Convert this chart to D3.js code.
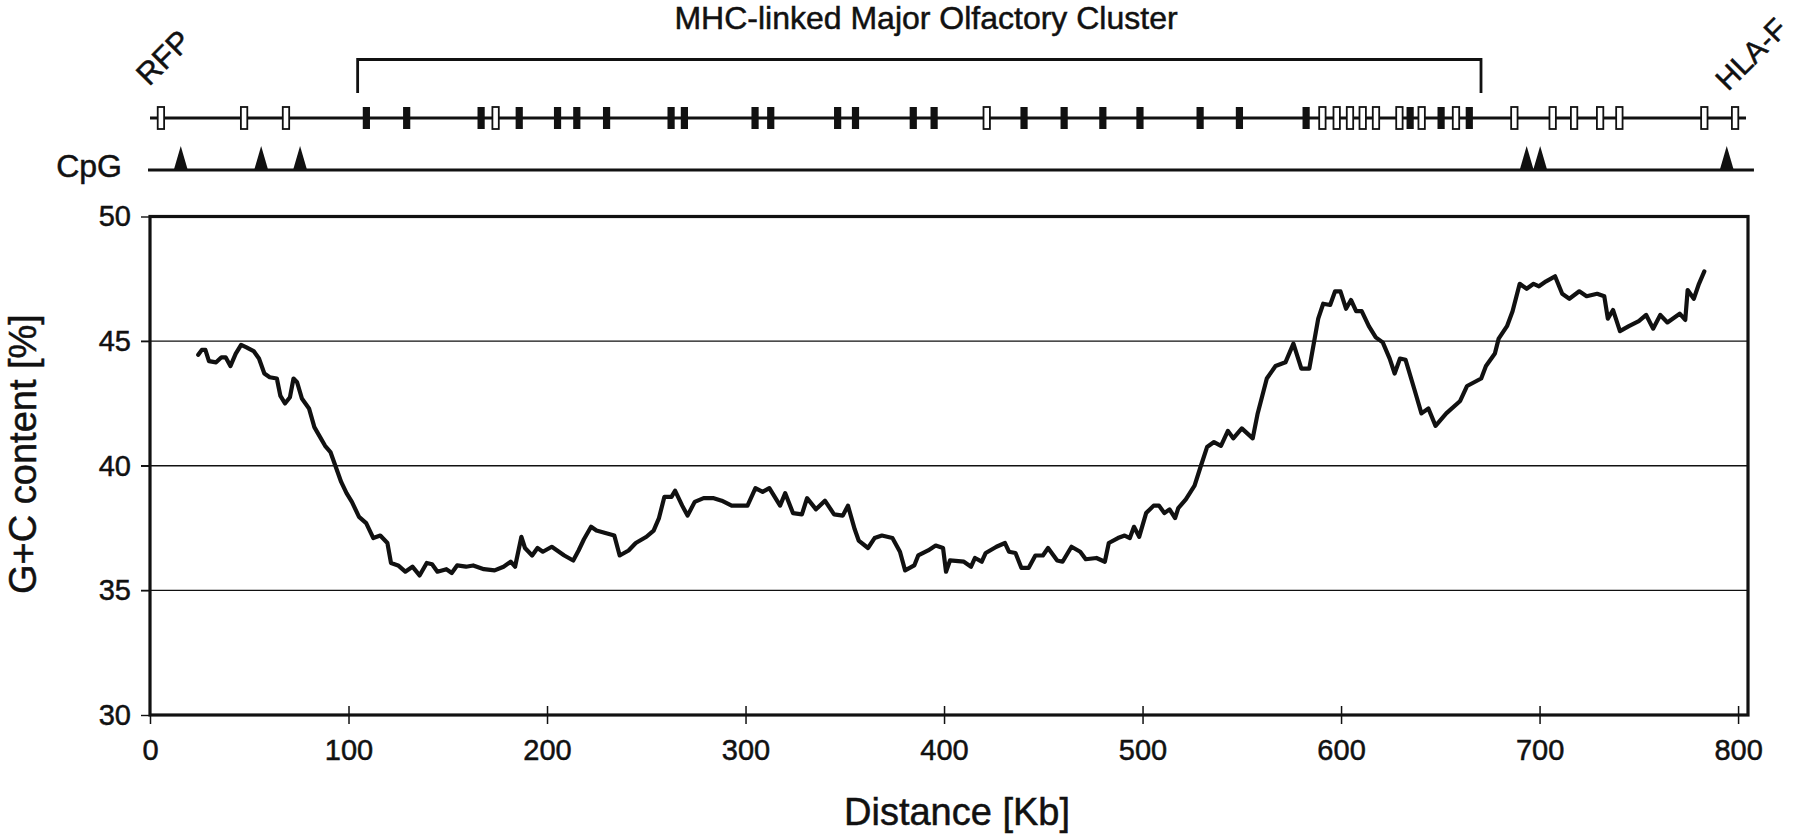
<!DOCTYPE html>
<html>
<head>
<meta charset="utf-8">
<script src="https://cdn.jsdelivr.net/npm/d3@7"></script>
<style>
  body { margin: 0; background: #fff; }
  svg { display: block; font-family: "Liberation Sans", Arial, Helvetica, sans-serif; }
  svg text { stroke: #111; stroke-width: 0.5px; }
</style>
</head>
<body>
<div id="chart"></div>
<script>
// G+C content along the MHC-linked olfactory receptor region
const distanceKb = [
  24.3, 26.1, 27.9, 29.7, 33.3, 36, 38.1, 40.5, 43.2, 45.9, 48.6, 52.2, 54.9, 57.6, 60.3, 63.9,
  65.7, 68, 70.5, 72.3, 74.1, 76.5, 80.1, 82.8, 84.6, 88.2, 90.9, 93.6, 96.3, 99, 101.7, 105.3,
  108.9, 112.5, 116, 119.6, 121.4, 125, 128.6, 132.2, 135.8, 139.4, 142.1, 144.8, 149.3, 152,
  154.7, 159.2, 162.8, 168.2, 173.6, 178.1, 181.7, 183.9, 187.1, 188.9, 192.5, 195.2, 197.9,
  202.4, 205.1, 208.7, 213.2, 215.9, 218.6, 222.2, 224.9, 229.4, 233.9, 236.6, 241.1, 244.7,
  250.1, 253.7, 256.4, 259.1, 262.7, 264.5, 268.1, 270.8, 274.4, 278.9, 282.1, 284, 288, 293,
  301, 305, 308.6, 312, 317.4, 320, 323.9, 328.4, 331, 335.5, 340, 344.6, 349, 351.6, 355, 357,
  361.7, 365, 368.7, 374, 377.8, 380.4, 385, 387, 392, 395.8, 399.5, 401, 403, 410, 413.6, 415.6,
  419, 421, 426.4, 430.7, 432.7, 436, 439, 442.6, 446, 449.8, 452.4, 457, 459.7, 464.2, 468.6,
  471.4, 476.8, 481, 483, 487.6, 491, 493.6, 495.7, 498.3, 501.8, 505.6, 508.3, 511, 513.6,
  516.4, 518, 521.8, 526.2, 529, 532.5, 536, 539.5, 543, 545.7, 550, 555.5, 558, 562.6, 567,
  572, 576, 580, 584, 588.5, 591, 594.5, 597, 599.7, 602.5, 605, 607.6, 610.4, 614, 617.5, 621,
  624.5, 627, 629.7, 632.5, 637, 640.5, 644, 647.6, 653, 660, 663.5, 670.6, 673, 677.5, 679.4,
  683.6, 686.4, 690, 693.5, 697, 699.7, 703.3, 707.8, 711.4, 715, 720, 723.7, 729, 732.6, 734.4,
  737, 740.5, 745, 750, 753.7, 757.2, 760.8, 764.4, 770.6, 773.4, 774.6, 777.7, 780.3, 783
]
const gcPercent = [
  44.45, 44.65, 44.65, 44.2, 44.15, 44.35, 44.35, 44.0, 44.5, 44.85, 44.75, 44.6, 44.3, 43.7, 43.55, 43.5,
  42.8, 42.5, 42.75, 43.5, 43.35, 42.7, 42.3, 41.55, 41.3, 40.8, 40.55, 39.95, 39.35, 38.9, 38.55, 37.95,
  37.7, 37.1, 37.2, 36.9, 36.1, 36.0, 35.75, 35.95, 35.6, 36.1, 36.05, 35.75, 35.85, 35.7,
  36.0, 35.95, 36.0, 35.85, 35.8, 35.95, 36.15, 35.95, 37.15, 36.7, 36.4, 36.7, 36.55,
  36.75, 36.6, 36.4, 36.2, 36.6, 37.05, 37.55, 37.4, 37.3, 37.2, 36.4, 36.6, 36.9,
  37.15, 37.4, 37.9, 38.75, 38.75, 39.0, 38.4, 38.0, 38.55, 38.7, 38.7, 38.7, 38.6, 38.4,
  38.4, 39.1, 38.95, 39.1, 38.4, 38.9, 38.1, 38.05, 38.7, 38.25, 38.6, 38.05, 38.0, 38.4, 37.45, 37.0,
  36.7, 37.1, 37.2, 37.1, 36.55, 35.8, 36.0, 36.4, 36.6, 36.8, 36.7, 35.75, 36.2, 36.15, 35.95, 36.3,
  36.15, 36.5, 36.75, 36.9, 36.55, 36.5, 35.9, 35.9, 36.4, 36.4, 36.7, 36.2, 36.15, 36.75, 36.55,
  36.25, 36.3, 36.15, 36.9, 37.1, 37.2, 37.1, 37.55, 37.15, 38.1, 38.4, 38.4, 38.1, 38.25,
  37.9, 38.3, 38.65, 39.2, 39.9, 40.75, 40.95, 40.8, 41.4, 41.1, 41.5, 41.1, 42.1, 43.5, 44.0,
  44.15, 44.9, 43.9, 43.9, 45.9, 46.5, 46.45, 47.0, 47.0, 46.3, 46.65, 46.2, 46.2, 45.6, 45.15, 44.95,
  44.3, 43.7, 44.3, 44.25, 43.05, 42.1, 42.3, 41.6, 42.1, 42.6, 43.2, 43.5, 44.0, 44.5, 45.1,
  45.6, 46.2, 47.3, 47.1, 47.3, 47.2, 47.4, 47.6, 46.9, 46.7, 47.0, 46.8, 46.9, 46.8, 45.9,
  46.25, 45.4, 45.6, 45.8, 46.05, 45.5, 46.05, 45.75, 46.1, 45.85, 47.05, 46.7, 47.3, 47.8
]

// gene map: open boxes and filled (olfactory receptor) boxes, positions in Kb
const openGenes = [5.5, 47.4, 68.5, 174.1, 421.5, 590.6, 597.8, 604.5, 610.9, 617.6, 629.4,
  640.6, 657.9, 687.3, 706.6, 717.4, 730.5, 740.2, 783, 798.5]
const filledGenes = [109, 129.3, 166.8, 186, 205.3, 215, 230, 262.5, 269.2, 304.8, 312.7, 346.4,
  355.4, 384.5, 395, 440.3, 460.5, 480, 498.7, 529, 548.8, 582.4, 634.8, 650.4, 664.6]
const cpgIslands = [15.5, 56, 75.6, 693.5, 700.3, 794.3]
const clusterSpan = [104.6, 670.5]

const xTicks = [0, 100, 200, 300, 400, 500, 600, 700, 800]
const yTicks = [30, 35, 40, 45, 50]
const gridValues = [35, 40, 45]

const width = 1800
const height = 834

const svg = d3.select("#chart")
  .append("svg")
  .attr("width", width)
  .attr("height", height)

const x = d3.scaleLinear().domain([0, 805]).range([150, 1748])
const y = d3.scaleLinear().domain([30, 50]).range([715, 216.5])

// Gridlines (extend a little left of the axis as ticks)
svg.append("g")
  .selectAll("line")
  .data(gridValues)
  .join("line")
  .attr("x1", x(0) - 9)
  .attr("x2", x(805))
  .attr("y1", d => y(d))
  .attr("y2", d => y(d))
  .attr("stroke", "#111")
  .attr("stroke-width", 1.4)

// Y axis ticks + labels
const yAxis = svg.append("g")
  .attr("transform", `translate(${x(0)},0)`)
  .call(d3.axisLeft(y).tickValues(yTicks).tickSize(9).tickPadding(10))
yAxis.select(".domain").remove()
yAxis.selectAll("line").attr("stroke", "#111").attr("stroke-width", 1.4)
yAxis.selectAll("text")
  .attr("fill", "#111")
  .attr("font-size", "29px")
  .attr("font-family", "Liberation Sans, Arial, sans-serif")

// X axis ticks crossing the axis line
const xAxis = svg.append("g")
  .attr("transform", `translate(0,${y(30)})`)
  .call(d3.axisBottom(x).tickValues(xTicks).tickSize(9).tickPadding(15))
xAxis.select(".domain").remove()
xAxis.selectAll("line").attr("stroke", "#111").attr("stroke-width", 1.5)
xAxis.selectAll(".tick").filter(d => d > 0)
  .append("line")
  .attr("y1", 0).attr("y2", -9)
  .attr("stroke", "#111").attr("stroke-width", 1.5)
xAxis.selectAll("text")
  .attr("fill", "#111")
  .attr("font-size", "29px")
  .attr("font-family", "Liberation Sans, Arial, sans-serif")

// Plot frame
svg.append("rect")
  .attr("x", x(0))
  .attr("y", y(50))
  .attr("width", x(805) - x(0))
  .attr("height", y(30) - y(50))
  .attr("fill", "none")
  .attr("stroke", "#111")
  .attr("stroke-width", 3.2)

// G+C curve
const line = d3.line()
  .x((d, i) => x(distanceKb[i]))
  .y(d => y(d))

svg.append("path")
  .datum(gcPercent)
  .attr("d", line)
  .attr("fill", "none")
  .attr("stroke", "#111")
  .attr("stroke-width", 4.2)
  .attr("stroke-linejoin", "round")
  .attr("stroke-linecap", "round")

// Axis titles
svg.append("text")
  .attr("x", 957)
  .attr("y", 825)
  .attr("text-anchor", "middle")
  .attr("font-size", "38px")
  .attr("fill", "#111")
  .text("Distance [Kb]")

svg.append("text")
  .attr("transform", "translate(36,454) rotate(-90)")
  .attr("text-anchor", "middle")
  .attr("font-size", "38px")
  .attr("fill", "#111")
  .text("G+C content [%]")

// Gene track
const geneY = 118
const track = svg.append("g")

track.append("line")
  .attr("x1", x(0)).attr("x2", x(804))
  .attr("y1", geneY).attr("y2", geneY)
  .attr("stroke", "#111").attr("stroke-width", 3)

track.selectAll("rect.filled")
  .data(filledGenes)
  .join("rect")
  .attr("class", "filled")
  .attr("x", d => x(d) - 3.6)
  .attr("y", geneY - 11)
  .attr("width", 7.2)
  .attr("height", 22)
  .attr("fill", "#111")

track.selectAll("rect.open")
  .data(openGenes)
  .join("rect")
  .attr("class", "open")
  .attr("x", d => x(d) - 3.2)
  .attr("y", geneY - 11)
  .attr("width", 6.4)
  .attr("height", 22)
  .attr("fill", "#fff")
  .attr("stroke", "#111")
  .attr("stroke-width", 1.8)

// Cluster bracket
const bracketTop = 59.5
track.append("path")
  .attr("d", `M${x(clusterSpan[0])},93 V${bracketTop} H${x(clusterSpan[1])} V93`)
  .attr("fill", "none")
  .attr("stroke", "#111")
  .attr("stroke-width", 2.8)

track.append("text")
  .attr("x", 926)
  .attr("y", 29)
  .attr("text-anchor", "middle")
  .attr("font-size", "32px")
  .attr("fill", "#111")
  .text("MHC-linked Major Olfactory Cluster")

// Gene labels
track.append("text")
  .attr("transform", "translate(149,87) rotate(-45)")
  .attr("font-size", "31px")
  .attr("fill", "#111")
  .text("RFP")

track.append("text")
  .attr("transform", "translate(1728,92) rotate(-45)")
  .attr("font-size", "30px")
  .attr("fill", "#111")
  .text("HLA-F")

// CpG track
const cpgY = 170
track.append("line")
  .attr("x1", x(-1)).attr("x2", x(808))
  .attr("y1", cpgY).attr("y2", cpgY)
  .attr("stroke", "#111").attr("stroke-width", 3)

track.selectAll("path.cpg")
  .data(cpgIslands)
  .join("path")
  .attr("class", "cpg")
  .attr("d", d => `M${x(d) - 7},${cpgY} L${x(d)},${cpgY - 24} L${x(d) + 7},${cpgY} Z`)
  .attr("fill", "#111")

track.append("text")
  .attr("x", 122)
  .attr("y", 177)
  .attr("text-anchor", "end")
  .attr("font-size", "32px")
  .attr("fill", "#111")
  .text("CpG")
</script>
</body>
</html>
